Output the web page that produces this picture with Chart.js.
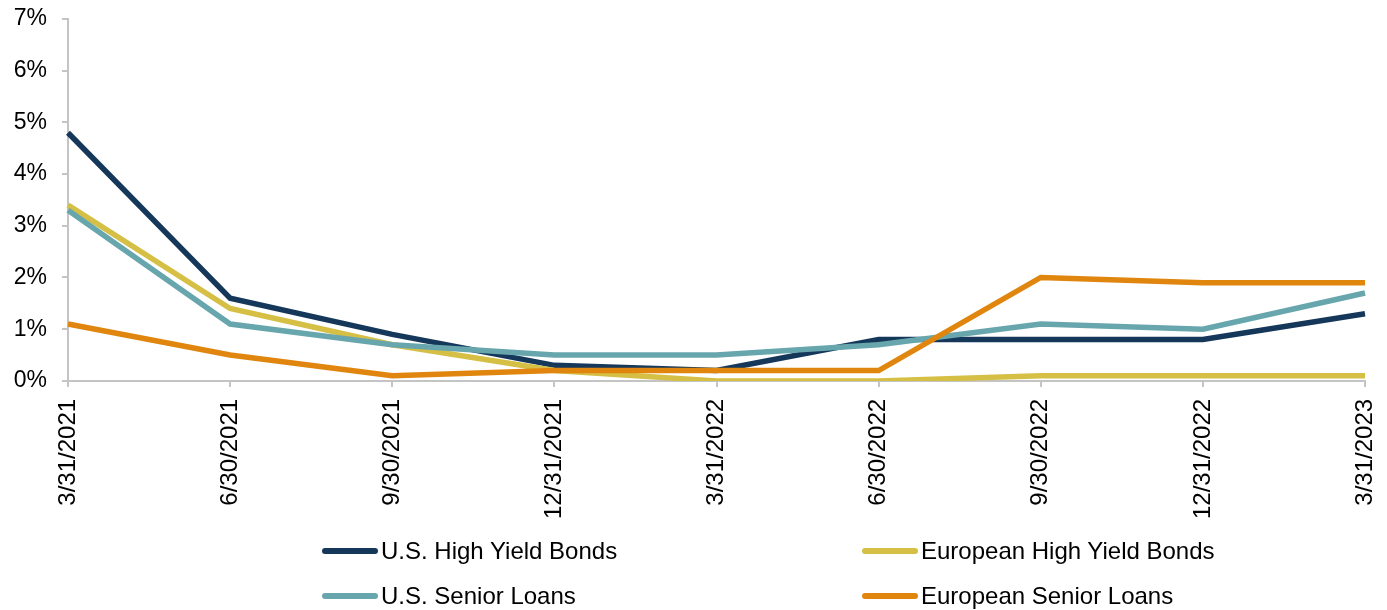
<!DOCTYPE html>
<html>
<head>
<meta charset="utf-8">
<script src="https://cdn.jsdelivr.net/npm/chart.js@4/dist/chart.umd.min.js"></script>
<style>
  html, body { margin: 0; padding: 0; background: #fff; }
  #wrap { position: relative; width: 1387px; height: 610px; }
  #wrap canvas { position: absolute; left: 0; top: 0; }
  #legend { position: absolute; left: 0; top: 531px; width: 1387px; font-family: "Liberation Sans", Arial, sans-serif; font-size: 24px; color: #000; }
  .item { position: absolute; height: 40px; line-height: 40px; white-space: nowrap; }
  .item span.sw { position: absolute; left: 0; top: 17px; width: 56px; height: 6px; border-radius: 3px; }
  .item span.tx { position: absolute; left: 59px; top: 0; }
</style>
</head>
<body>
<div id="wrap">
  <canvas id="chart" width="1387" height="610"></canvas>
  <div id="legend"></div>
</div>
<script>
// categories (quarter ends)
const dates = ["3/31/2021", "6/30/2021", "9/30/2021", "12/31/2021", "3/31/2022", "6/30/2022", "9/30/2022", "12/31/2022", "3/31/2023"];

// series values, in %
const usHighYield = [4.8, 1.6, 0.9, 0.3, 0.2, 0.8, 0.8, 0.8, 1.3];
const euHighYield = [3.4, 1.4, 0.7, 0.2, 0.0, 0.0, 0.1, 0.1, 0.1];
const usSeniorLoans = [3.3, 1.1, 0.7, 0.5, 0.5, 0.7, 1.1, 1.0, 1.7];
const euSeniorLoans = [1.1, 0.5, 0.1, 0.2, 0.2, 0.2, 2.0, 1.9, 1.9];

// y tick labels
const yTicks = ["0%", "1%", "2%", "3%", "4%", "5%", "6%", "7%"];

const seriesNames = ["U.S. High Yield Bonds", "European High Yield Bonds", "U.S. Senior Loans", "European Senior Loans"];
const seriesColors = ["#15375a", "#d6bf45", "#68a6ad", "#e0860e"];
const seriesData = [usHighYield, euHighYield, usSeniorLoans, euSeniorLoans];

const axisGrey = "#c4c4c4";
const fontFamily = "'Liberation Sans', Arial, sans-serif";

const datasets = seriesNames.map(function (name, i) {
  return {
    label: name,
    data: seriesData[i],
    borderColor: seriesColors[i],
    backgroundColor: seriesColors[i],
    borderWidth: 5.5,
    pointRadius: 0,
    tension: 0,
    fill: false,
    order: 4 - i
  };
});

const ctx = document.getElementById("chart").getContext("2d");
const chart = new Chart(ctx, {
  type: "line",
  data: { labels: dates, datasets: datasets },
  options: {
    responsive: false,
    animation: false,
    layout: { padding: { top: 19, right: 22, bottom: 79, left: 0 } },
    plugins: { legend: { display: false }, tooltip: { enabled: false } },
    scales: {
      x: {
        offset: false,
        // let the outer layout padding fix the plot edges
        afterFit: function (scale) { scale.paddingLeft = 0; scale.paddingRight = 0; },
        grid: { display: true, drawOnChartArea: false, drawTicks: true, tickLength: 6, color: axisGrey, lineWidth: 2 },
        border: { display: true, color: axisGrey, width: 2 },
        ticks: {
          color: "#000",
          font: { family: fontFamily, size: 24 },
          minRotation: 90,
          maxRotation: 90,
          padding: 12,
          autoSkip: false
        }
      },
      y: {
        min: 0,
        max: 7,
        afterFit: function (scale) { scale.width = 68; scale.paddingTop = 0; scale.paddingBottom = 0; },
        grid: { display: true, drawOnChartArea: false, drawTicks: true, tickLength: 6, color: axisGrey, lineWidth: 2 },
        border: { display: true, color: axisGrey, width: 2 },
        ticks: {
          stepSize: 1,
          color: "#000",
          padding: 15,
          font: { family: fontFamily, size: 23 },
          callback: function (v) { return yTicks[v]; }
        }
      }
    }
  }
});

// legend in two columns, built from the chart's datasets
const legendBox = document.getElementById("legend");
const colX = [322, 862];
const rowY = [0, 45];
chart.data.datasets.forEach(function (ds, i) {
  const item = document.createElement("div");
  item.className = "item";
  item.style.left = colX[i % 2] + "px";
  item.style.top = rowY[Math.floor(i / 2)] + "px";
  item.innerHTML = '<span class="sw" style="background:' + ds.borderColor + '"></span><span class="tx">' + ds.label + '</span>';
  legendBox.appendChild(item);
});
</script>
</body>
</html>
